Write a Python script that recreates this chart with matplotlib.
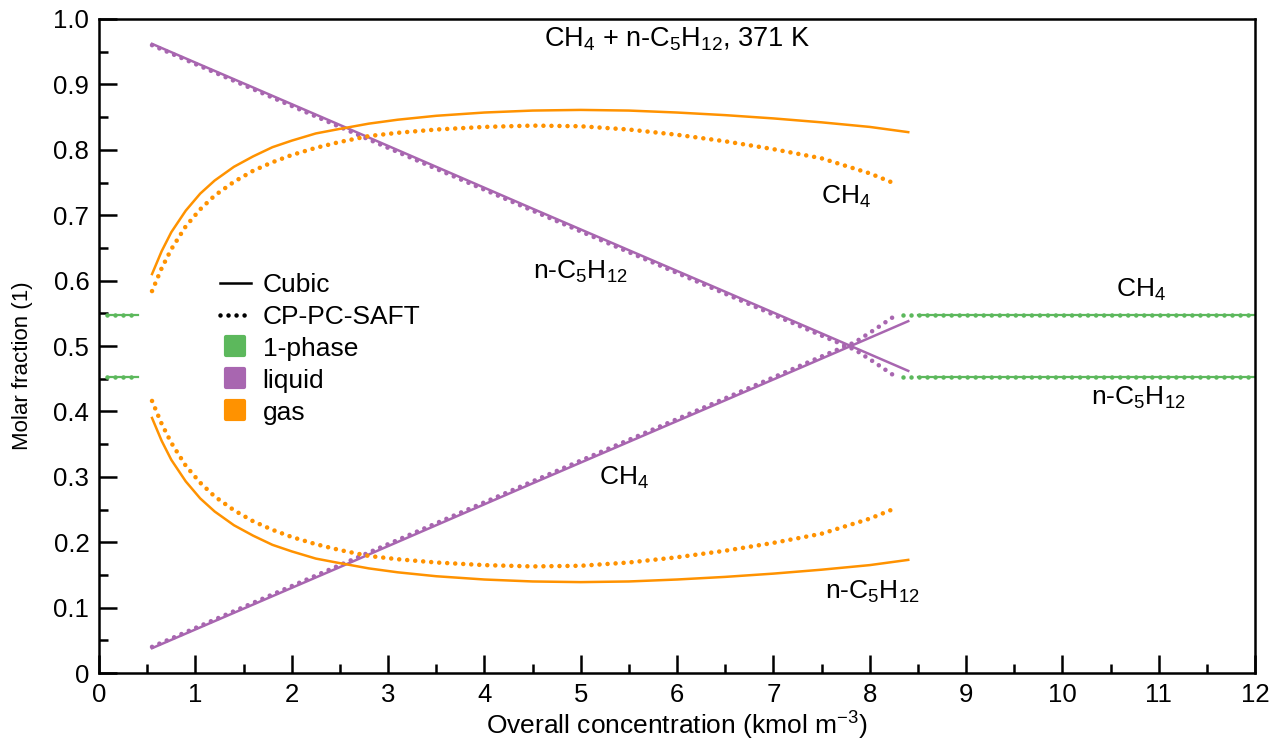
import matplotlib
matplotlib.use("Agg")
import matplotlib.pyplot as plt
from matplotlib.lines import Line2D
from matplotlib.markers import MarkerStyle
from matplotlib.ticker import MultipleLocator

plt.rcParams['font.family'] = ['Liberation Sans', 'DejaVu Sans']
plt.rcParams['mathtext.fontset'] = 'custom'
plt.rcParams['mathtext.rm'] = 'Liberation Sans'
plt.rcParams['mathtext.it'] = 'Liberation Sans'

GREEN = '#5cb85c'
PURPLE = '#a866b0'
ORANGE = '#ff9200'

# ---- data ----
# liquid phase, cubic EoS
x_liq_cubic = [0.55, 2.5, 4.5, 6.5, 8.4]
ch4_liq_cubic = [0.038, 0.162, 0.290, 0.417, 0.538]
c5_liq_cubic = [0.962, 0.838, 0.710, 0.583, 0.462]

# liquid phase, CP-PC-SAFT
x_liq_saft = [0.55, 2.5, 4.5, 6.5, 7.5, 7.85, 8.05, 8.25]
ch4_liq_saft = [0.040, 0.165, 0.293, 0.420, 0.484, 0.506, 0.525, 0.545]
c5_liq_saft = [0.960, 0.835, 0.707, 0.580, 0.516, 0.494, 0.475, 0.455]

# gas phase, cubic EoS
x_gas_cubic = [0.55, 0.65, 0.75, 0.9, 1.05, 1.2, 1.4, 1.6, 1.8, 2.0, 2.25, 2.5, 2.8,
               3.1, 3.5, 4.0, 4.5, 5.0, 5.5, 6.0, 6.5, 7.0, 7.5, 8.0, 8.4]
ch4_gas_cubic = [0.610, 0.645, 0.674, 0.707, 0.733, 0.753, 0.774, 0.790, 0.804, 0.814,
                 0.825, 0.832, 0.840, 0.846, 0.852, 0.857, 0.860, 0.861, 0.860, 0.857,
                 0.853, 0.848, 0.842, 0.835, 0.827]
c5_gas_cubic = [0.390, 0.355, 0.326, 0.293, 0.267, 0.247, 0.226, 0.210, 0.196, 0.186,
                0.175, 0.168, 0.160, 0.154, 0.148, 0.143, 0.140, 0.139, 0.140, 0.143,
                0.147, 0.152, 0.158, 0.165, 0.173]

# gas phase, CP-PC-SAFT
x_gas_saft = [0.55, 0.65, 0.75, 0.9, 1.05, 1.2, 1.4, 1.6, 1.8, 2.0, 2.25, 2.5, 2.8,
              3.1, 3.5, 4.0, 4.5, 5.0, 5.5, 6.0, 6.5, 7.0, 7.5, 8.0, 8.25]
ch4_gas_saft = [0.584, 0.619, 0.648, 0.683, 0.709, 0.730, 0.751, 0.768, 0.781, 0.792,
                0.803, 0.812, 0.821, 0.826, 0.831, 0.835, 0.837, 0.836, 0.831, 0.823,
                0.813, 0.801, 0.787, 0.764, 0.749]
c5_gas_saft = [0.416, 0.381, 0.352, 0.317, 0.291, 0.270, 0.249, 0.232, 0.219, 0.208,
               0.197, 0.188, 0.179, 0.174, 0.169, 0.165, 0.163, 0.164, 0.169, 0.177,
               0.187, 0.199, 0.213, 0.236, 0.251]

# single phase region
x_one_left = [0.08, 0.4]
x_one_right_cubic = [8.5, 12.0]
x_one_right_saft = [8.35, 12.0]
ch4_one = 0.547
c5_one = 0.453

fig = plt.figure(figsize=(12.88, 7.45), dpi=100)
ax = fig.add_axes([0.0769, 0.0966, 0.8975, 0.8779])

dots = (0, (0.001, 1.75))
lw_solid = 1.8
lw_dot = 3.3


def solid(x, y, color, lw=lw_solid):
    ax.plot(x, y, color=color, lw=lw)


def dotted(x, y, color):
    ax.plot(x, y, color=color, lw=lw_dot, linestyle=dots, dash_capstyle='round')


# 1-phase
for v in (ch4_one, c5_one):
    solid(x_one_left, [v, v], GREEN, lw=1.6)
    dotted(x_one_left, [v, v], GREEN)
    solid(x_one_right_cubic, [v, v], GREEN, lw=1.6)
    dotted(x_one_right_saft, [v, v], GREEN)

# liquid
solid(x_liq_cubic, ch4_liq_cubic, PURPLE)
solid(x_liq_cubic, c5_liq_cubic, PURPLE)
dotted(x_liq_saft, ch4_liq_saft, PURPLE)
dotted(x_liq_saft, c5_liq_saft, PURPLE)

# gas
solid(x_gas_cubic, ch4_gas_cubic, ORANGE)
solid(x_gas_cubic, c5_gas_cubic, ORANGE)
dotted(x_gas_saft, ch4_gas_saft, ORANGE)
dotted(x_gas_saft, c5_gas_saft, ORANGE)

# labels on the curves
fs = 19
ax.text(6.0, 0.969, r'CH$_4$ + n-C$_5$H$_{12}$, 371 K', ha='center', va='center', fontsize=19.5)
ax.text(7.75, 0.728, r'CH$_4$', ha='center', va='center', fontsize=fs)
ax.text(5.0, 0.613, r'n-C$_5$H$_{12}$', ha='center', va='center', fontsize=fs)
ax.text(10.82, 0.586, r'CH$_4$', ha='center', va='center', fontsize=fs)
ax.text(10.79, 0.42, r'n-C$_5$H$_{12}$', ha='center', va='center', fontsize=fs)
ax.text(5.45, 0.298, r'CH$_4$', ha='center', va='center', fontsize=fs)
ax.text(8.03, 0.124, r'n-C$_5$H$_{12}$', ha='center', va='center', fontsize=fs)

ax.set_xlim(0, 12)
ax.set_ylim(0, 1.0)
ax.xaxis.set_major_locator(MultipleLocator(1))
ax.xaxis.set_minor_locator(MultipleLocator(0.5))
ax.yaxis.set_minor_locator(MultipleLocator(0.05))
ax.set_yticks([0, 0.1, 0.2, 0.3, 0.4, 0.5, 0.6, 0.7, 0.8, 0.9, 1.0],
              ['0', '0.1', '0.2', '0.3', '0.4', '0.5', '0.6', '0.7', '0.8', '0.9', '1.0'])
ax.tick_params(which='both', direction='in', width=1.8, labelsize=18.5,
               top=False, right=False)
ax.tick_params(which='major', length=13, pad=7)
ax.tick_params(which='minor', length=6.5)
for s in ax.spines.values():
    s.set_linewidth(1.8)

ax.set_xlabel(r'Overall concentration (kmol m$^{-3}$)', fontsize=19, labelpad=2)
ax.set_ylabel('Molar fraction (1)', fontsize=16)
ax.yaxis.set_label_coords(-0.057, 0.47)

# legend
sq = MarkerStyle('s', joinstyle='round')
handles = [
    Line2D([], [], color='black', lw=1.8),
    Line2D([], [], color='black', lw=lw_dot, linestyle=dots, dash_capstyle='round'),
    Line2D([], [], ls='none', marker=sq, markersize=13, color=GREEN, mew=3),
    Line2D([], [], ls='none', marker=sq, markersize=13, color=PURPLE, mew=3),
    Line2D([], [], ls='none', marker=sq, markersize=13, color=ORANGE, mew=3),
]
labels = ['Cubic', 'CP-PC-SAFT', '1-phase', 'liquid', 'gas']
ax.legend(handles, labels, loc='upper left', bbox_to_anchor=(0.0955, 0.628),
          frameon=False, fontsize=19, handlelength=1.17, handletextpad=0.45,
          labelspacing=0.3, borderaxespad=0)

fig.savefig('out.png', dpi=100)
